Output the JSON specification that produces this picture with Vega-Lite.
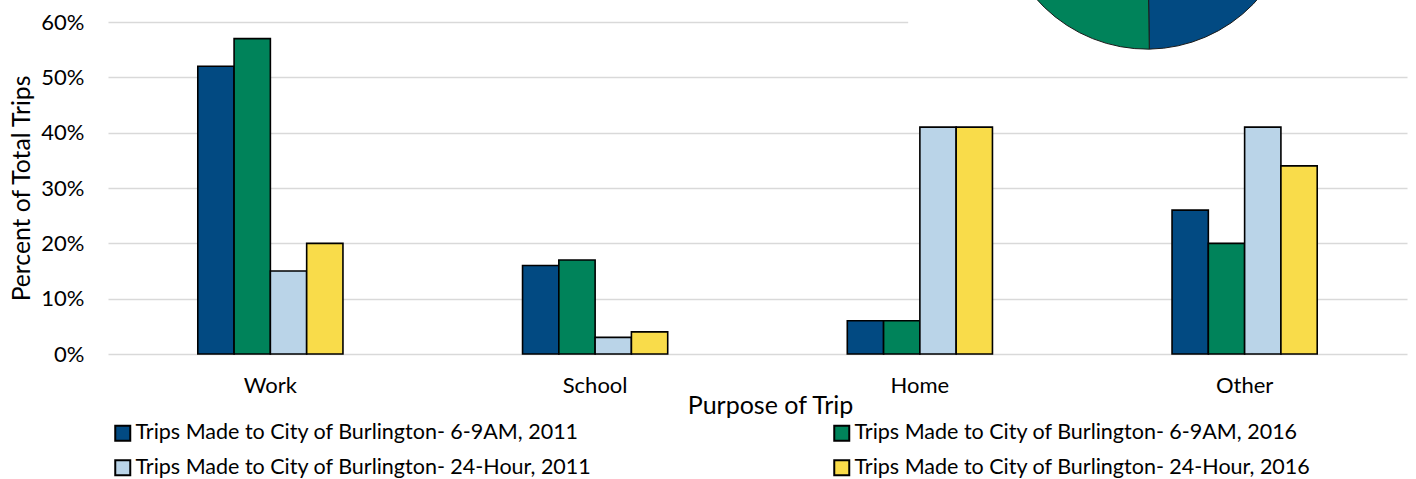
{
  "$schema": "https://vega.github.io/schema/vega-lite/v6.json",
  "width": 1299,
  "height": 332,
  "autosize": {"type": "none"},
  "padding": {"left": 108, "top": 22, "right": 9, "bottom": 125},
  "background": "white",
  "config": {
    "font": "Lato",
    "view": {"stroke": null},
    "axis": {"labelFont": "Lato", "titleFont": "Lato", "labelColor": "#000000", "titleColor": "#000000", "titleFontWeight": "normal"},
    "legend": {"labelFont": "Lato", "labelColor": "#000000"}
  },
  "datasets": {
    "trips": [
      {"purpose": "Work", "series": "Trips Made to City of Burlington- 6-9AM, 2011", "pct": 52},
      {"purpose": "Work", "series": "Trips Made to City of Burlington- 6-9AM, 2016", "pct": 57},
      {"purpose": "Work", "series": "Trips Made to City of Burlington- 24-Hour, 2011", "pct": 15},
      {"purpose": "Work", "series": "Trips Made to City of Burlington- 24-Hour, 2016", "pct": 20},
      {"purpose": "School", "series": "Trips Made to City of Burlington- 6-9AM, 2011", "pct": 16},
      {"purpose": "School", "series": "Trips Made to City of Burlington- 6-9AM, 2016", "pct": 17},
      {"purpose": "School", "series": "Trips Made to City of Burlington- 24-Hour, 2011", "pct": 3},
      {"purpose": "School", "series": "Trips Made to City of Burlington- 24-Hour, 2016", "pct": 4},
      {"purpose": "Home", "series": "Trips Made to City of Burlington- 6-9AM, 2011", "pct": 6},
      {"purpose": "Home", "series": "Trips Made to City of Burlington- 6-9AM, 2016", "pct": 6},
      {"purpose": "Home", "series": "Trips Made to City of Burlington- 24-Hour, 2011", "pct": 41},
      {"purpose": "Home", "series": "Trips Made to City of Burlington- 24-Hour, 2016", "pct": 41},
      {"purpose": "Other", "series": "Trips Made to City of Burlington- 6-9AM, 2011", "pct": 26},
      {"purpose": "Other", "series": "Trips Made to City of Burlington- 6-9AM, 2016", "pct": 20},
      {"purpose": "Other", "series": "Trips Made to City of Burlington- 24-Hour, 2011", "pct": 41},
      {"purpose": "Other", "series": "Trips Made to City of Burlington- 24-Hour, 2016", "pct": 34}
    ],
    "inset": [
      {"slice": "A", "share": 50, "ord": 1, "cx": 80.0, "cy": 136.4},
      {"slice": "B", "share": 50, "ord": 2, "cx": 80.0, "cy": 136.4}
    ],
    "insetBox": [
      {"x0": 61.6, "x1": 101, "y0": 91.6, "y1": 120}
    ]
  },
  "layer": [
    {
      "data": {"name": "trips"},
      "mark": {"type": "bar", "stroke": "#000000", "strokeWidth": 1.6},
      "encoding": {
        "x": {
          "field": "purpose", "type": "nominal",
          "sort": ["Work", "School", "Home", "Other"],
          "scale": {"paddingInner": 0.553, "paddingOuter": 0.2765},
          "axis": {
            "title": "Purpose of Trip", "titleFontSize": 25, "titlePadding": -3, "titleX": 662,
            "labelFontSize": 22, "labelAngle": 0, "labelPadding": 21,
            "domain": false, "ticks": false
          }
        },
        "xOffset": {
          "field": "series", "type": "nominal",
          "sort": [
            "Trips Made to City of Burlington- 6-9AM, 2011",
            "Trips Made to City of Burlington- 6-9AM, 2016",
            "Trips Made to City of Burlington- 24-Hour, 2011",
            "Trips Made to City of Burlington- 24-Hour, 2016"
          ],
          "scale": {"paddingInner": 0, "paddingOuter": 0}
        },
        "y": {
          "field": "pct", "type": "quantitative",
          "scale": {"domain": [0, 60], "nice": false},
          "axis": {
            "title": "Percent of Total Trips", "titleFontSize": 24.7, "titlePadding": 6,
            "labelFontSize": 22, "labelPadding": 24,
            "values": [0, 10, 20, 30, 40, 50, 60],
            "labelExpr": "datum.value + '%'",
            "domain": false, "ticks": false,
            "grid": true, "gridColor": "#D9D9D9", "gridWidth": 1.6
          }
        },
        "color": {
          "field": "series", "type": "nominal",
          "scale": {
            "domain": [
              "Trips Made to City of Burlington- 6-9AM, 2011",
              "Trips Made to City of Burlington- 6-9AM, 2016",
              "Trips Made to City of Burlington- 24-Hour, 2011",
              "Trips Made to City of Burlington- 24-Hour, 2016"
            ],
            "range": ["#024A82", "#00835A", "#BAD4E8", "#F9DC4A"]
          },
          "legend": {
            "title": null,
            "orient": "none",
            "legendX": 4,
            "legendY": 400,
            "direction": "horizontal",
            "columns": 2,
            "columnPadding": 238,
            "rowPadding": 11,
            "symbolType": "square",
            "symbolSize": 225,
            "symbolStrokeColor": "#000000",
            "symbolStrokeWidth": 2,
            "labelFontSize": 21.5,
            "labelOffset": 2,
            "labelLimit": 700
          }
        }
      }
    },
    {
      "layer": [
        {
          "data": {"name": "insetBox"},
          "mark": {"type": "rect", "fill": "white", "stroke": null},
          "encoding": {
            "x": {"field": "x0", "type": "quantitative", "scale": {"domain": [0, 100]}, "axis": null},
            "x2": {"field": "x1"},
            "y": {"field": "y0", "type": "quantitative", "scale": {"domain": [0, 100]}, "axis": null},
            "y2": {"field": "y1"}
          }
        },
        {
          "data": {"name": "inset"},
          "mark": {"type": "arc", "radius": 148, "stroke": "#1a1a1a", "strokeWidth": 1},
          "encoding": {
            "x": {"field": "cx", "type": "quantitative", "scale": {"domain": [0, 100]}, "axis": null},
            "y": {"field": "cy", "type": "quantitative", "scale": {"domain": [0, 100]}, "axis": null},
            "theta": {"field": "share", "type": "quantitative", "stack": true, "scale": {"range": [-0.014, 6.269]}},
            "order": {"field": "ord"},
            "color": {
              "field": "slice", "type": "nominal",
              "scale": {"domain": ["A", "B"], "range": ["#024A82", "#00835A"]},
              "legend": null
            }
          }
        }
      ]
    }
  ],
  "resolve": {"scale": {"x": "independent", "y": "independent", "color": "independent"}}
}
